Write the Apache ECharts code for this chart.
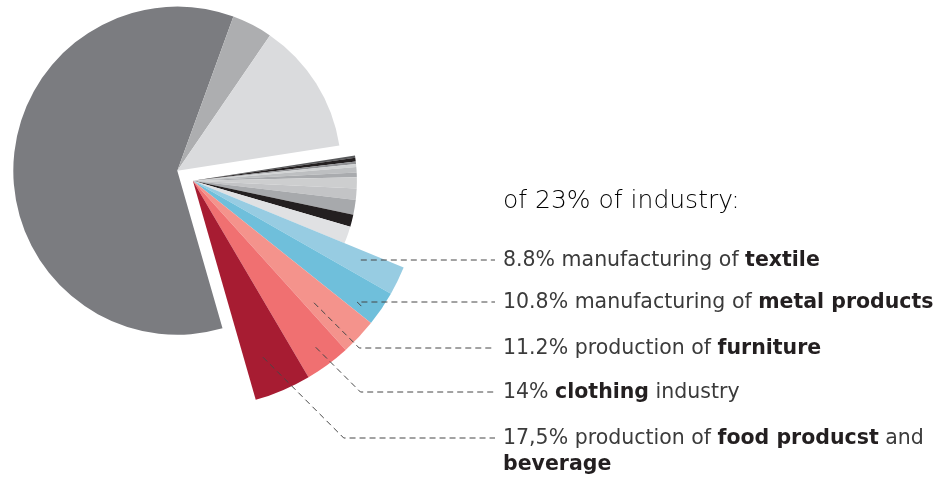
<!DOCTYPE html>
<html>
<head>
<meta charset="utf-8">
<script src="https://cdn.jsdelivr.net/npm/echarts@6/dist/echarts.min.js"></script>
<style>
  html, body { margin: 0; padding: 0; background: #ffffff; }
  #chart { width: 936px; height: 481px; }
</style>
</head>
<body>
<div id="chart"></div>
<script>
// Share of each sector in total output (%)
const industryShare = 23;
const otherSectorNames = ['sector 1', 'sector 2', 'sector 3'];
const otherSectorShares = [60, 4, 13];

// Industry branches without a caption (% of industry)
const minorBranchShares = [0.9, 1.6, 1.1, 1.3, 2.3, 2.0, 4.7, 4.9, 6.3, 5.2, 7.4];

// Captioned industry branches (% of industry)
const mainBranchNames = ['textile', 'metal products', 'furniture', 'clothing', 'food products and beverage'];
const mainBranchShares = [8.8, 10.8, 11.2, 14, 17.5];
const mainBranchLabels = [
  '8.8% manufacturing of {b|textile}',
  '10.8% manufacturing of {b|metal products}',
  '11.2% production of {b|furniture}',
  '14% {b|clothing} industry',
  '17,5% production of {b|food producst} and\n{b|beverage}'
];

// ---- styling ----
const otherSectorColors = ['#7b7c80', '#adaeb0', '#dadbdd'];
const minorBranchColors = ['#58595b', '#231f20', '#909194', '#d1d3d4', '#bdbfc1', '#a9abae',
                           '#cdcecf', '#c3c4c6', '#a7a9ac', '#231f20', '#e0e1e3'];
const mainBranchColors = ['#97cce2', '#6fbfdb', '#f4938c', '#f07071', '#a71c32'];

const START_ANGLE = 8.8;
const PIE_CENTER = [177.3, 170.7];
const PIE_RADIUS = 164;
const BURST_OFFSET = 18.5;
const BRANCH_RADIUS = 228;

// leader lines: where each starts inside its wedge and the row it leads to
const labelRowY = [260, 302, 348, 392, 438];
const lineStartRadius = [186, 210, 172, 207, 190];
const lineStartPos = [0.42, 0.78, 0.71, 0.49, 0.61];
const LABEL_X = 503;
const LINE_END_X = 495;
const FONT = 'DejaVu Sans';

// exploded wedge sits along the bisector of the industry share
const midDeg = -START_ANGLE + industryShare * 3.6 / 2;
const burstCenter = [
  PIE_CENTER[0] + BURST_OFFSET * Math.cos(midDeg * Math.PI / 180),
  PIE_CENTER[1] + BURST_OFFSET * Math.sin(midDeg * Math.PI / 180)
];

const toTotal = v => v * industryShare / 100;
const minorTotal = minorBranchShares.reduce((a, b) => a + b, 0);

const blank = (value) => ({
  value: value,
  itemStyle: { color: 'rgba(0,0,0,0)' },
  label: { show: false },
  labelLine: { show: false }
});

const chart = echarts.init(document.getElementById('chart'), null, { renderer: 'canvas' });

function leaderPoints(layout, k) {
  const a = layout.startAngle + (layout.endAngle - layout.startAngle) * lineStartPos[k];
  const sx = layout.cx + lineStartRadius[k] * Math.cos(a);
  const sy = layout.cy + lineStartRadius[k] * Math.sin(a);
  const ty = labelRowY[k];
  if (Math.abs(ty - sy) < 3) {
    return [[sx, ty], [(sx + LINE_END_X) / 2, ty], [LINE_END_X, ty]];
  }
  return [[sx, sy], [sx + (ty - sy), ty], [LINE_END_X, ty]];
}

const basePie = {
  type: 'pie',
  startAngle: START_ANGLE,
  clockwise: true,
  avoidLabelOverlap: false,
  silent: true,
  animation: false,
  emphasis: { disabled: true },
  itemStyle: { borderWidth: 0 },
  label: { show: false },
  labelLine: { show: false }
};

// captioned branches, as wedges in the exploded part
const branchData = (colorOf) => [blank(toTotal(minorTotal))].concat(mainBranchShares.map((v, i) => ({
  name: mainBranchNames[i], value: toTotal(v), itemStyle: { color: colorOf(i) }
}))).concat([blank(100 - industryShare)]);

chart.setOption({
  animation: false,
  title: {
    text: 'of ' + industryShare + '% of industry:',
    left: LABEL_X,
    top: 186,
    padding: 0,
    textStyle: { fontFamily: FONT, fontWeight: 200, fontSize: 25, lineHeight: 30, color: '#000000' }
  },
  series: [
    Object.assign({}, basePie, {
      name: 'economy',
      z: 2,
      center: PIE_CENTER,
      radius: [0, PIE_RADIUS],
      data: [blank(industryShare)].concat(otherSectorShares.map((v, i) => ({
        name: otherSectorNames[i], value: v, itemStyle: { color: otherSectorColors[i] }
      })))
    }),
    Object.assign({}, basePie, {
      name: 'industry, other branches',
      z: 2,
      center: burstCenter,
      radius: [0, PIE_RADIUS],
      data: minorBranchShares.map((v, i) => ({
        name: 'branch ' + (i + 1), value: toTotal(v), itemStyle: { color: minorBranchColors[i] }
      })).concat([blank(toTotal(100 - minorTotal) + (100 - industryShare))])
    }),
    Object.assign({}, basePie, {
      name: 'industry, main branches',
      z: 2,
      center: burstCenter,
      radius: [0, BRANCH_RADIUS],
      data: branchData(i => mainBranchColors[i])
    }),
    // captions and dashed leaders, drawn on top of the wedges
    Object.assign({}, basePie, {
      name: 'captions',
      z: 5,
      center: burstCenter,
      radius: [0, BRANCH_RADIUS],
      label: {
        show: true,
        position: 'outside',
        fontFamily: FONT,
        fontSize: 20.5,
        lineHeight: 26,
        color: '#3b3b3b',
        formatter: p => mainBranchLabels[p.dataIndex - 1],
        rich: {
          b: { fontFamily: FONT, fontSize: 20.5, lineHeight: 26, fontWeight: 'bold', color: '#231f20' }
        }
      },
      labelLine: {
        show: true,
        length: 10,
        length2: 10,
        smooth: false,
        lineStyle: { color: '#474747', width: 1, type: [6, 4] }
      },
      labelLayout: function (params) {
        const k = params.dataIndex - 1;
        if (k < 0 || k >= mainBranchShares.length) return {};
        const layout = chart.getModel().getSeriesByIndex(params.seriesIndex)
          .getData().getItemLayout(params.dataIndex);
        const multi = mainBranchLabels[k].indexOf('\n') >= 0;
        return {
          x: LABEL_X,
          y: multi ? labelRowY[k] - 12 : labelRowY[k] + 1,
          align: 'left',
          verticalAlign: multi ? 'top' : 'middle',
          labelLinePoints: leaderPoints(layout, k)
        };
      },
      data: branchData(() => 'rgba(0,0,0,0)')
    })
  ]
});
</script>
</body>
</html>
